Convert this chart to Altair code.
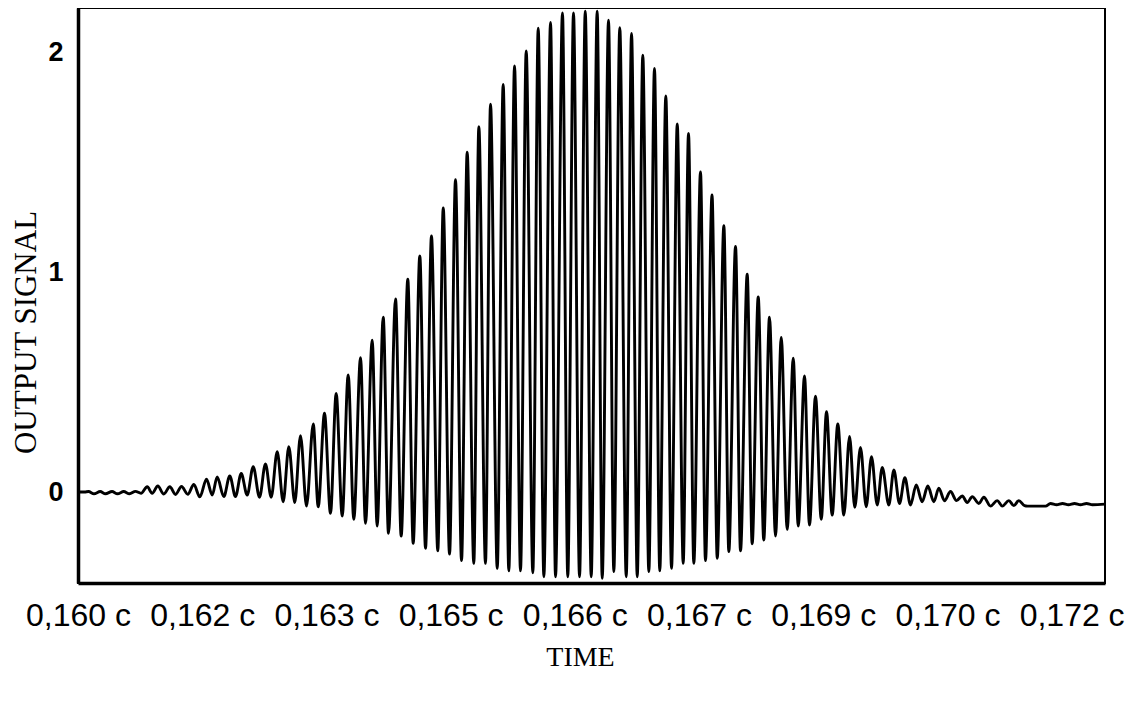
import json
import altair as alt
import pandas as pd

# Time in milliseconds (axis labels show seconds)
lead_t = [160.000, 160.080, 160.127, 160.193, 160.268, 160.332, 160.411, 160.477,
          160.552, 160.622, 160.694, 160.761]
lead_v = [0.000, 0.000, 0.002, -0.008, 0.002, -0.008, 0.002, -0.008,
          0.002, -0.008, 0.003, -0.006]

peak_t = [160.836, 160.964, 161.109, 161.250, 161.399, 161.552, 161.681, 161.833, 161.971, 162.116,
          162.264, 162.406, 162.546, 162.687, 162.841, 162.977, 163.118, 163.263, 163.412, 163.553,
          163.686, 163.835, 163.983, 164.128, 164.269, 164.411, 164.559, 164.700, 164.841, 164.982,
          165.135, 165.272, 165.413, 165.558, 165.707, 165.851, 165.984, 166.126, 166.270, 166.407,
          166.543, 166.685, 166.821, 166.962, 167.099, 167.237, 167.373, 167.518, 167.657, 167.800,
          167.941, 168.082, 168.215, 168.351, 168.493, 168.638, 168.774, 168.907, 169.040, 169.176,
          169.318, 169.450, 169.583, 169.713, 169.853, 169.986, 170.123, 170.263, 170.396, 170.537,
          170.679, 170.800, 170.940, 171.101, 171.242, 171.362]
peak_v = [0.024, 0.027, 0.024, 0.025, 0.034, 0.058, 0.068, 0.073, 0.084, 0.115,
          0.128, 0.183, 0.206, 0.256, 0.309, 0.358, 0.448, 0.532, 0.610, 0.690,
          0.795, 0.877, 0.967, 1.073, 1.164, 1.291, 1.419, 1.545, 1.660, 1.763,
          1.853, 1.937, 2.005, 2.108, 2.134, 2.177, 2.178, 2.186, 2.186, 2.144,
          2.110, 2.084, 1.985, 1.925, 1.800, 1.673, 1.630, 1.455, 1.350, 1.210,
          1.116, 0.990, 0.887, 0.794, 0.703, 0.608, 0.527, 0.436, 0.365, 0.309,
          0.252, 0.203, 0.161, 0.112, 0.100, 0.065, 0.032, 0.027, 0.017, 0.002,
          -0.018, -0.021, -0.024, -0.039, -0.039, -0.039]

trough_t = [160.896, 161.036, 161.178, 161.326, 161.471, 161.621, 161.761, 161.902, 162.043, 162.192,
            162.333, 162.478, 162.618, 162.760, 162.901, 163.049, 163.191, 163.331, 163.472, 163.613,
            163.750, 163.903, 164.048, 164.197, 164.345, 164.487, 164.632, 164.780, 164.921, 165.063,
            165.203, 165.344, 165.493, 165.626, 165.767, 165.915, 166.057, 166.198, 166.331, 166.471,
            166.621, 166.754, 166.894, 167.026, 167.168, 167.309, 167.437, 167.578, 167.720, 167.860,
            168.001, 168.142, 168.282, 168.424, 168.565, 168.698, 168.834, 168.976, 169.108, 169.249,
            169.381, 169.519, 169.652, 169.792, 169.921, 170.054, 170.195, 170.336, 170.465, 170.610,
            170.739, 170.879, 171.020, 171.162, 171.302]
trough_v = [-0.006, -0.009, -0.011, -0.010, -0.022, -0.014, -0.021, -0.021, -0.014, -0.024,
            -0.024, -0.044, -0.048, -0.064, -0.067, -0.097, -0.109, -0.124, -0.142, -0.155,
            -0.188, -0.200, -0.233, -0.256, -0.267, -0.282, -0.312, -0.324, -0.324, -0.347,
            -0.358, -0.358, -0.367, -0.385, -0.385, -0.385, -0.385, -0.385, -0.392, -0.362,
            -0.385, -0.385, -0.362, -0.358, -0.347, -0.324, -0.324, -0.312, -0.301, -0.271,
            -0.267, -0.235, -0.218, -0.200, -0.170, -0.155, -0.150, -0.124, -0.105, -0.105,
            -0.070, -0.067, -0.059, -0.059, -0.052, -0.059, -0.044, -0.044, -0.040, -0.039,
            -0.048, -0.052, -0.064, -0.064, -0.062]

tail_t = [171.431, 171.467, 171.685, 171.745, 171.818, 171.890, 171.962, 172.035,
          172.107, 172.180, 172.252, 172.403]
tail_v = [-0.062, -0.064, -0.064, -0.052, -0.058, -0.052, -0.058, -0.052,
          -0.058, -0.052, -0.058, -0.055]

tick_vals = [160, 161.5, 163, 164.5, 166, 167.5, 169, 170.5, 172]
tick_labels = ["0,160 c", "0,162 c", "0,163 c", "0,165 c", "0,166 c",
               "0,167 c", "0,169 c", "0,170 c", "0,172 c"]
y_ticks = [0, 1, 2]

df = pd.DataFrame({
    "t": lead_t + peak_t + trough_t + tail_t,
    "v": lead_v + peak_v + trough_v + tail_v,
}).sort_values("t").reset_index(drop=True)

label_expr = json.dumps(tick_labels) + "[round((datum.value - 160) / 1.5)]"

chart = alt.Chart(df).mark_line(
    color="black", strokeWidth=2.9, interpolate="monotone", clip=True
).encode(
    x=alt.X("t:Q",
            scale=alt.Scale(domain=[160, 172.403], nice=False, zero=False),
            axis=alt.Axis(values=tick_vals, labelExpr=label_expr, title="TIME",
                          ticks=False, grid=False, domain=True, domainColor="black",
                          domainWidth=3.5,
                          labelFont="Liberation Sans", labelFontSize=32,
                          labelColor="black", labelPadding=17, labelFlush=False,
                          labelOverlap=False, labelBound=False,
                          titleFont="Liberation Serif", titleFontSize=28,
                          titleFontWeight="normal", titleColor="black",
                          titleBaseline="alphabetic", titleY=82, titleX=502)),
    y=alt.Y("v:Q",
            scale=alt.Scale(domain=[-0.4136, 2.2], nice=False, zero=False),
            axis=alt.Axis(values=y_ticks, format="d", title="OUTPUT SIGNAL",
                          ticks=False, grid=False, domain=True, domainColor="black",
                          domainWidth=3.5,
                          labelFont="Liberation Sans", labelFontSize=27,
                          labelFontWeight="bold", labelColor="black",
                          labelPadding=15, labelBaseline="middle",
                          titleFont="Liberation Serif", titleFontSize=31,
                          titleFontWeight="normal", titleColor="black",
                          titleAngle=270, titleBaseline="middle",
                          titleX=-52, titleY=324)),
    order="t:Q",
).properties(
    width=1027, height=575,
    autosize=alt.AutoSizeParams(type="none"),
    padding={"left": 70, "top": 0, "right": 20, "bottom": 112},
).configure_view(stroke="black", strokeWidth=2)

chart.save("out.html", embed_options={"renderer": "svg", "actions": False})
